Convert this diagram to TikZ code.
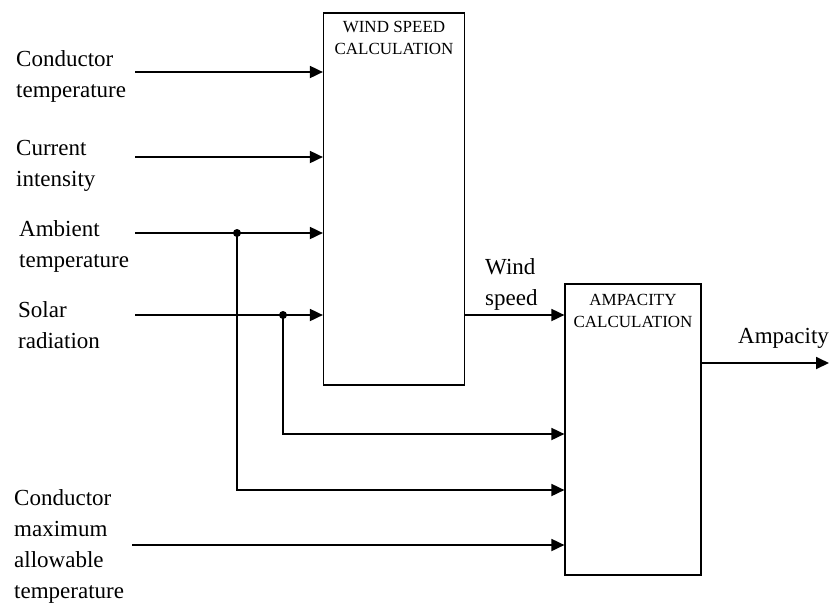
\documentclass[tikz,border=0pt]{standalone}
\usepackage{fontspec}
\setmainfont{Liberation Serif}
\usetikzlibrary{positioning,arrows.meta}

\begin{document}
\begin{tikzpicture}[x=1pt,y=-1pt,
  inlabel/.style={anchor=base west,inner sep=0pt,align=left,font=\fontsize{23}{31}\selectfont},
  blockbox/.style={draw,shape=rectangle,line width=1.2pt},
  blocktitle/.style={anchor=base,inner sep=0pt,align=center,font=\fontsize{17}{22}\selectfont},
  feed/.style={line width=1.8pt,-{Triangle[length=13pt,width=12pt]}},
  joint/.style={circle,fill,inner sep=0pt,minimum size=8pt}]
\useasboundingbox (0,0) rectangle (829,603);

% blocks
\draw node (wind) at (394,199) [blockbox,minimum width=141pt,minimum height=372pt]{};
\draw node (amp) at (633,429.5) [blockbox,minimum width=136pt,minimum height=291pt]{};
% base = last line
\node (windt) at ([yshift=-42pt]wind.north) [blocktitle]{WIND SPEED\\CALCULATION};
\node (ampt) at ([yshift=-44pt]amp.north) [blocktitle]{AMPACITY\\CALCULATION};

% inputs
\node (cond) at (16,97) [inlabel]{Conductor\\temperature};
\node (curr) at (16,186) [inlabel]{Current\\intensity};
\node (amb) at (19,267) [inlabel]{Ambient\\temperature};
\node (sol) at (18,348) [inlabel]{Solar\\radiation};
\node (cmax) at (14,598) [inlabel]{Conductor\\maximum\\allowable\\temperature};
\node (ws) at (485,305) [inlabel]{Wind\\speed};
\node (ampout) at (738,343) [inlabel]{Ampacity};

\coordinate (c1) at (135,72);
\coordinate (c2) at (135,157);
\coordinate (c3) at (135,233);
\coordinate (c4) at (135,315);
\coordinate (c5) at (132,545);
\coordinate (out) at (829,363);
\node (j1) at (237,233) [joint]{};
\node (j2) at (283,315) [joint]{};

\draw[feed] (c1) -- (c1 -| wind.west);
\draw[feed] (c2) -- (c2 -| wind.west);
\draw[feed] (c3) -- (c3 -| wind.west);
\draw[feed] (c4) -- (c4 -| wind.west);
\draw[feed] (j2.center) |- ([yshift=-4.5pt]amp.west);
\draw[feed] (j1.center) |- ([yshift=-60.5pt]amp.west);
\draw[feed] (c5) -- (c5 -| amp.west);
\draw[feed] (wind.east |- c4) -- (amp.west |- c4);
\draw[feed] (amp.east |- out) -- (out);
\end{tikzpicture}
\end{document}
